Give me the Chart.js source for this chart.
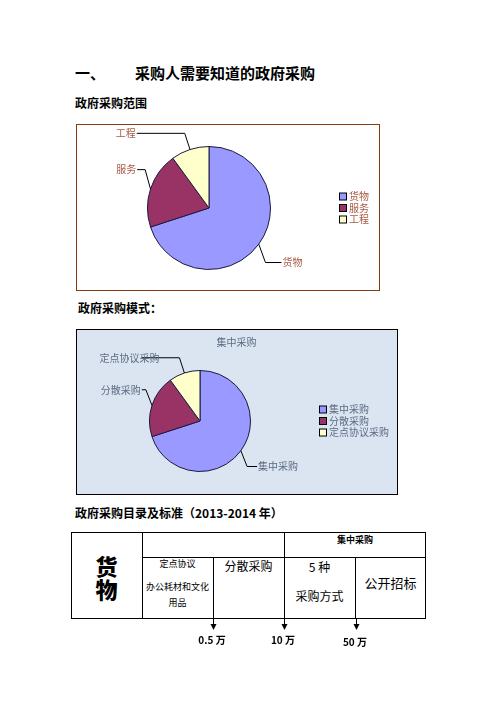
<!DOCTYPE html>
<html>
<head>
<meta charset="utf-8">
<script src="https://cdn.jsdelivr.net/npm/chart.js@4.4.1/dist/chart.umd.min.js"></script>
<style>
  body { margin: 0; background: #fff; font-family: "Noto Sans CJK SC", sans-serif; }
  #page { position: relative; width: 496px; height: 702px; overflow: hidden; background: #fff; }
  .t { position: absolute; font-weight: bold; color: #000; white-space: nowrap; line-height: 1; }
  .box { position: absolute; box-sizing: border-box; }
  .box canvas { position: absolute; left: 0; top: 0; }
  .ln { position: absolute; background: #000; }
  .c { position: absolute; text-align: center; white-space: nowrap; line-height: 1; color: #000; }
</style>
</head>
<body>
<div id="page">
  <div class="t" style="left:75px;top:65px;font-size:15px;">一、</div>
  <div class="t" style="left:135px;top:65px;font-size:15px;">采购人需要知道的政府采购</div>
  <div class="t" style="left:75px;top:97px;font-size:12px;">政府采购范围</div>

  <div class="box" style="left:76px;top:124px;width:304px;height:167px;border:1.5px solid #843c0c;">
    <canvas id="scopeChart" width="301" height="164"></canvas>
  </div>

  <div class="t" style="left:78px;top:302px;font-size:12px;">政府采购模式：</div>

  <div class="box" style="left:76px;top:329px;width:322px;height:166px;border:1.5px solid #000;background:#dbe5f1;">
    <canvas id="modeChart" width="319" height="163"></canvas>
  </div>

  <div class="t" style="left:75px;top:507px;font-size:12px;">政府采购目录及标准（2013-2014 年）</div>

  <!-- table -->
  <div class="box" style="left:71px;top:532px;width:355px;height:87px;border:1px solid #000;"></div>
  <div class="ln" style="left:142px;top:532px;width:1px;height:87px;"></div>
  <div class="ln" style="left:284px;top:532px;width:1px;height:87px;"></div>
  <div class="ln" style="left:142px;top:557px;width:284px;height:1px;"></div>
  <div class="ln" style="left:213px;top:557px;width:1px;height:62px;"></div>
  <div class="ln" style="left:355px;top:557px;width:1px;height:62px;"></div>

  <div class="c" style="left:71px;top:554px;width:71px;font-size:22px;font-weight:900;line-height:23px;">货<br>物</div>
  <div class="c" style="left:284px;top:535px;width:142px;font-size:9px;font-weight:bold;">集中采购</div>
  <div class="c" style="left:142px;top:559px;width:71px;font-size:9px;">定点协议</div>
  <div class="c" style="left:142px;top:582px;width:71px;font-size:9px;">办公耗材和文化</div>
  <div class="c" style="left:142px;top:598px;width:71px;font-size:9px;">用品</div>
  <div class="c" style="left:213px;top:560px;width:71px;font-size:12px;">分散采购</div>
  <div class="c" style="left:284px;top:561px;width:71px;font-size:12px;">5 种</div>
  <div class="c" style="left:284px;top:590px;width:71px;font-size:12px;">采购方式</div>
  <div class="c" style="left:355px;top:576px;width:71px;font-size:13px;">公开招标</div>

  <canvas id="arrows" width="496" height="60" style="position:absolute;left:0;top:615px;"></canvas>
</div>

<script>
// 政府采购范围
const scopeLabels = ['货物', '服务', '工程'];
const scopeValues = [70, 20, 10];

// 政府采购模式
const modeTitle = '集中采购';
const modeLabels = ['集中采购', '分散采购', '定点协议采购'];
const modeValues = [70, 20, 10];

// 采购限额标准
const limitLabels = ['0.5 万', '10 万', '50 万'];
const limitX = [213, 284, 356];

const sliceColors = ['#9999ff', '#993366', '#ffffcc'];

const pieDecor = {
  id: 'pieDecor',
  afterDraw(chart, args, opts) {
    const ctx = chart.ctx;
    const meta = chart.getDatasetMeta(0);
    const labels = chart.data.labels;
    const colors = chart.data.datasets[0].backgroundColor;
    ctx.save();
    ctx.font = '10px "Noto Sans CJK SC"';
    ctx.textBaseline = 'middle';
    // leader lines + labels
    meta.data.forEach((arc, i) => {
      const p = arc.getProps(['x', 'y', 'startAngle', 'endAngle', 'outerRadius'], true);
      const mid = (p.startAngle + p.endAngle) / 2;
      const ex = p.x + p.outerRadius * Math.cos(mid), ey = p.y + p.outerRadius * Math.sin(mid);
      const a = mid + opts.shift[i] * Math.PI / 180;
      const rr = p.outerRadius + opts.elbow[i];
      const kx = p.x + rr * Math.cos(a), ky = p.y + rr * Math.sin(a);
      const side = Math.cos(a) >= 0 ? 1 : -1;
      const tx = kx + side * opts.tails[i];
      ctx.strokeStyle = opts.lineColor;
      ctx.lineWidth = 1;
      ctx.beginPath();
      ctx.moveTo(ex, ey);
      ctx.lineTo(kx, ky);
      ctx.lineTo(tx, ky);
      ctx.stroke();
      ctx.fillStyle = opts.textColor;
      ctx.textAlign = side > 0 ? 'left' : 'right';
      ctx.fillText(labels[i], tx + side * (1 + opts.overlap[i]), ky);
    });
    // legend on the right
    const area = chart.chartArea;
    const lx = area.right + opts.legendGap;
    const rowH = 11.5;
    const cy = (area.top + area.bottom) / 2;
    labels.forEach((lab, i) => {
      const y = cy + (i - (labels.length - 1) / 2) * rowH;
      ctx.fillStyle = colors[i];
      ctx.fillRect(lx, y - 3.5, 7, 7);
      ctx.strokeStyle = '#000';
      ctx.strokeRect(lx + 0.5, y - 3.5, 7, 7);
      ctx.fillStyle = opts.textColor;
      ctx.textAlign = 'left';
      ctx.fillText(lab, lx + 10, y);
    });
    if (opts.title) {
      ctx.textAlign = 'center';
      ctx.fillStyle = opts.textColor;
      ctx.fillText(opts.title, chart.width / 2, 12);
    }
    ctx.restore();
  }
};

function makePie(id, labels, values, padding, decor) {
  return new Chart(document.getElementById(id), {
    type: 'pie',
    data: {
      labels: labels,
      datasets: [{
        data: values,
        backgroundColor: sliceColors,
        borderColor: '#1a1a40',
        borderWidth: 1
      }]
    },
    options: {
      responsive: false,
      animation: false,
      layout: { padding: padding },
      plugins: {
        legend: { display: false },
        tooltip: { enabled: false },
        pieDecor: decor
      }
    },
    plugins: [pieDecor]
  });
}

makePie('scopeChart', scopeLabels, scopeValues,
  { left: 70, right: 107, top: 21, bottom: 19 },
  { elbow: [17, 13, 17], shift: [8, 13, 0], tails: [16, 8, 48], overlap: [0, 0, 0],
    legendGap: 68, lineColor: '#000', textColor: '#a65a45' });

makePie('modeChart', modeLabels, modeValues,
  { left: 72, right: 145, top: 40, bottom: 21 },
  { elbow: [15, 12, 16], shift: [8, 12, 0], tails: [10, 4, 38], overlap: [0, 0, -19],
    legendGap: 68, lineColor: '#000', textColor: '#5b6b82', title: modeTitle });

// arrows under the table
const actx = document.getElementById('arrows').getContext('2d');
actx.strokeStyle = '#000';
actx.fillStyle = '#000';
actx.font = 'bold 10px "Noto Sans CJK SC"';
actx.textAlign = 'center';
actx.textBaseline = 'middle';
limitX.forEach((x, i) => {
  actx.beginPath();
  actx.moveTo(x + 0.5, 3);
  actx.lineTo(x + 0.5, 11);
  actx.stroke();
  actx.beginPath();
  actx.moveTo(x - 2.5, 9);
  actx.lineTo(x + 3.5, 9);
  actx.lineTo(x + 0.5, 15);
  actx.closePath();
  actx.fill();
  actx.fillText(limitLabels[i], x - 1, 25 + (i === 2 ? 2 : 0));
});
</script>
</body>
</html>
